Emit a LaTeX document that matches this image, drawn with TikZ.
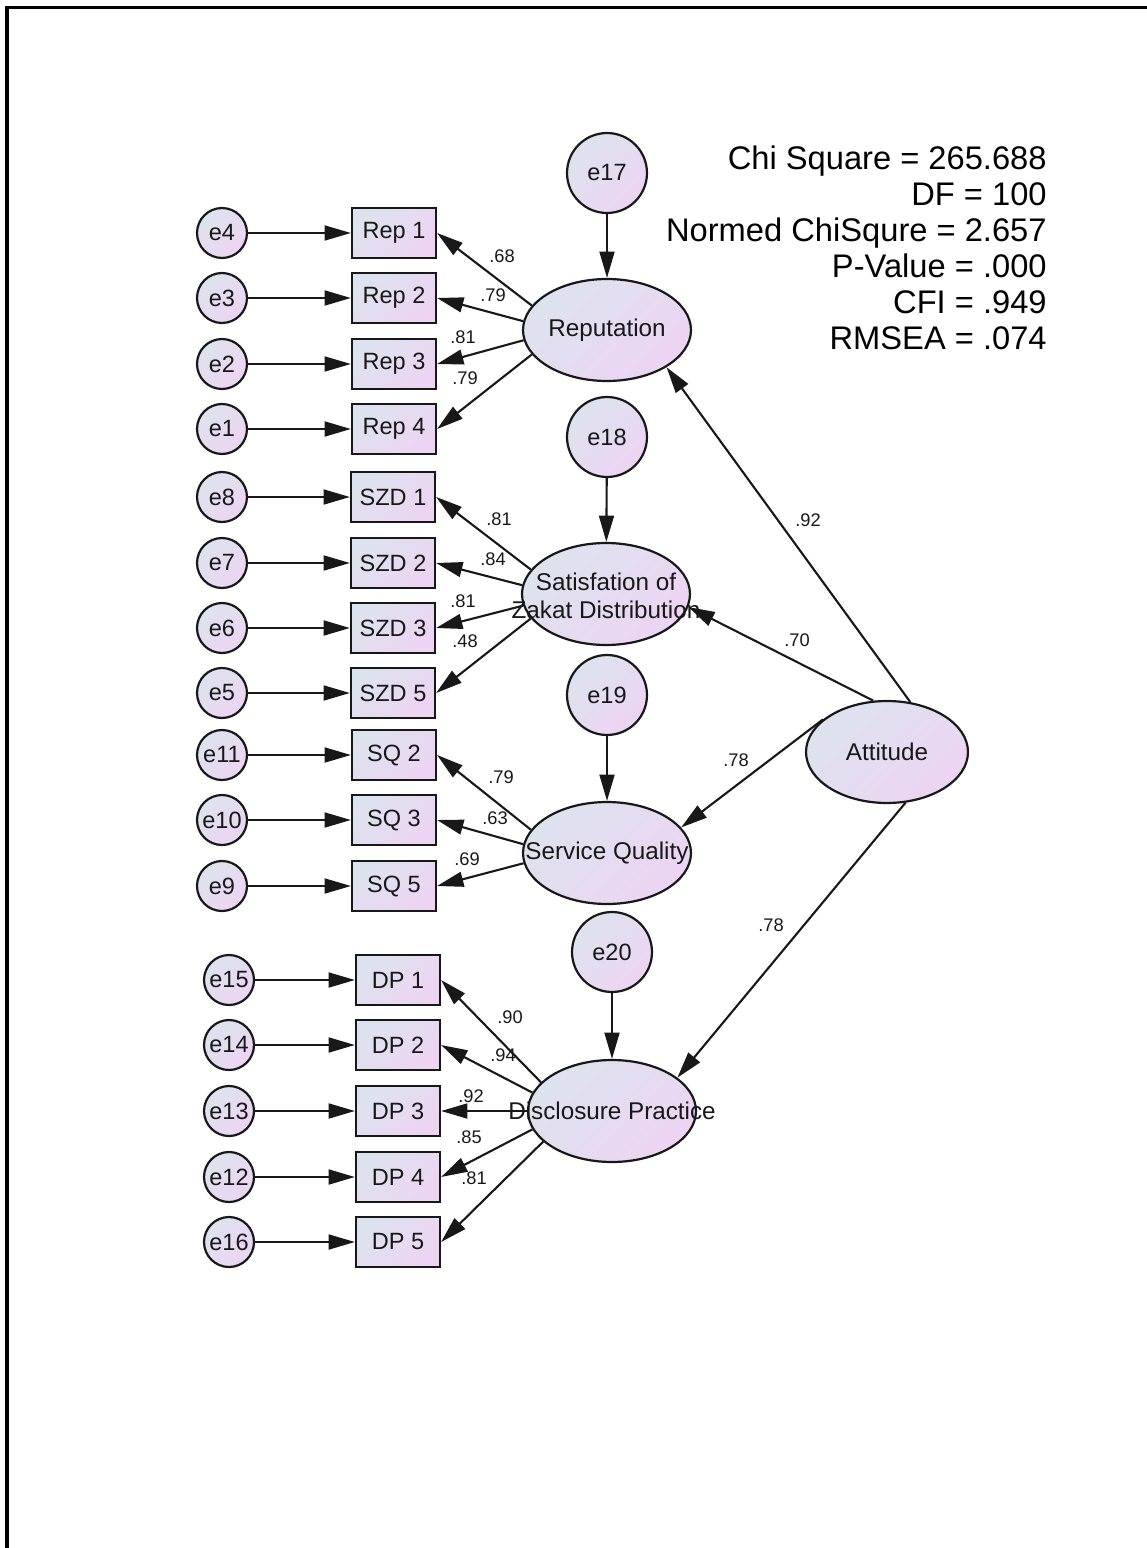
\documentclass[tikz,border=0pt]{standalone}
\usepackage{fontspec}
\setmainfont{Liberation Sans}
\usetikzlibrary{shapes.geometric,arrows.meta}
\definecolor{fillA}{RGB}{221,227,238}
\definecolor{fillB}{RGB}{237,212,243}
\definecolor{ink}{RGB}{24,24,24}
\begin{document}
\begin{tikzpicture}[x=0.02cm,y=-0.02cm,
  shadefill/.style={top color=fillA,bottom color=fillB,shading angle=45},
  errc/.style={circle,draw=ink,line width=1.25pt,shadefill,minimum size=10mm,inner sep=0pt,
    text=ink,font=\fontsize{13.4}{15}\selectfont},
  errbig/.style={errc,minimum size=16mm},
  obs/.style={rectangle,draw=ink,line width=1.25pt,shadefill,minimum width=16.8mm,
    minimum height=10mm,inner sep=0pt,text=ink,font=\fontsize{13.4}{15}\selectfont},
  latent/.style={ellipse,draw=ink,line width=1.25pt,shadefill,minimum width=33.6mm,
    minimum height=20.4mm,inner sep=0pt},
  lattext/.style={inner sep=0pt,align=center,text=ink,font=\fontsize{13.8}{16}\selectfont},
  arr/.style={draw=ink,line width=1.2pt,-{Triangle[length=15pt,width=8.5pt]}},
  coef/.style={inner sep=0pt,text=ink,font=\fontsize{10.4}{12}\selectfont},
  stats/.style={inner sep=0pt,align=right,text=black,font=\fontsize{18.6}{20.5}\selectfont}]

\useasboundingbox (0,0) rectangle (1146,1548);
% page frame (open to the right and bottom)
\draw[line width=1.8pt,black] (7,1560) -- (7,7.7) -- (1160,7.7);

% ---- fit indices
\node[stats,anchor=east] (fit) at (1047,248)
  {Chi Square = 265.688\\DF = 100\\Normed ChiSqure = 2.657\\P-Value = .000\\CFI = .949\\RMSEA = .074};

% ---- latent variables
\node[latent] (rep) at (607,330) {};
\node[lattext] (reptxt) at (rep) {Reputation};
\node[latent] (szd) at (606,594) {};
\node[lattext] (szdtxt) at (606,596) {Satisfation of\\Zakat Distribution};
\node[latent] (sq) at (607,853) {};
\node[lattext] (sqtxt) at (sq) {Service Quality};
\node[latent] (dp) at (612,1111) {};
\node[lattext] (dptxt) at (dp) {Disclosure Practice};
\node[latent,minimum width=32.4mm] (att) at (887,752) {};
\node[lattext] (atttxt) at (att) {Attitude};

% ---- disturbances
\node[errbig] (e17) at (607,173) {e17};
\node[errbig] (e18) at (607,437) {e18};
\node[errbig] (e19) at (607,695) {e19};
\node[errbig] (e20) at (612,952) {e20};

% ---- Reputation indicators
\node[obs] (rep1) at (394,233) {Rep 1};
\node[obs] (rep2) at (394,298) {Rep 2};
\node[obs] (rep3) at (394,364) {Rep 3};
\node[obs] (rep4) at (394,429) {Rep 4};
\node[errc] (e4) at (222,233) {e4};
\node[errc] (e3) at (222,298) {e3};
\node[errc] (e2) at (222,364) {e2};
\node[errc] (e1) at (222,429) {e1};

% ---- Satisfaction indicators
\node[obs] (szd1) at (393,497) {SZD 1};
\node[obs] (szd2) at (393,563) {SZD 2};
\node[obs] (szd3) at (393,628) {SZD 3};
\node[obs] (szd5) at (393,693) {SZD 5};
\node[errc] (e8) at (222,497) {e8};
\node[errc] (e7) at (222,563) {e7};
\node[errc] (e6) at (222,628) {e6};
\node[errc] (e5) at (222,693) {e5};

% ---- Service quality indicators
\node[obs] (sq2) at (394,755) {SQ 2};
\node[obs] (sq3) at (394,820) {SQ 3};
\node[obs] (sq5) at (394,886) {SQ 5};
\node[errc] (e11) at (222,755) {e11};
\node[errc] (e10) at (222,820) {e10};
\node[errc] (e9) at (222,886) {e9};

% ---- Disclosure practice indicators
\node[obs] (dp1) at (398,980) {DP 1};
\node[obs] (dp2) at (398,1045) {DP 2};
\node[obs] (dp3) at (398,1111) {DP 3};
\node[obs] (dp4) at (398,1177) {DP 4};
\node[obs] (dp5) at (398,1242) {DP 5};
\node[errc] (e15) at (229,980) {e15};
\node[errc] (e14) at (229,1045) {e14};
\node[errc] (e13) at (229,1111) {e13};
\node[errc] (e12) at (229,1177) {e12};
\node[errc] (e16) at (229,1242) {e16};

% ---- error terms to indicators
\foreach \e/\o in {e4/rep1,e3/rep2,e2/rep3,e1/rep4,e8/szd1,e7/szd2,e6/szd3,e5/szd5,
  e11/sq2,e10/sq3,e9/sq5,e15/dp1,e14/dp2,e13/dp3,e12/dp4,e16/dp5}
  \draw[arr] (\e) -- (\o);

% ---- disturbances to latents
\draw[arr] (e17) -- (rep);
\draw[arr] (e18) -- (szd);
\draw[arr] (e19) -- (sq);
\draw[arr] (e20) -- (dp);

% ---- loadings
\draw[arr] (rep.162.7) -- (rep1.east);
\draw[arr] (rep.174.6) -- (rep2.east);
\draw[arr] (rep.187.5) -- (rep3.east);
\draw[arr] (rep.198.7) -- (rep4.east);
\draw[arr] (szd.162.5) -- (szd1.east);
\draw[arr] (szd.174.6) -- (szd2.east);
\draw[arr] (szd.188.5) -- (szd3.east);
\draw[arr] (szd.198.2) -- (szd5.east);
\draw[arr] (sq.163) -- (sq2.east);
\draw[arr] (sq.174) -- (sq3.east);
\draw[arr] (sq.187) -- (sq5.east);
\draw[arr] (dp.158) -- (dp1.east);
\draw[arr] (dp.167.6) -- (dp2.east);
\draw[arr] (dp.180) -- (dp3.east);
\draw[arr] (dp.193) -- (dp4.east);
\draw[arr] (dp.204) -- (dp5.east);

% ---- structural paths
\draw[arr] (att.65.3) -- (rep.328.8);
\draw[arr] (att.105.3) -- (szd.351);
\draw[arr] (att.153.4) -- (sq.19.6);
\draw[arr] (att.290.8) -- (dp.27.6);

% ---- coefficients
\node[coef] (c1) at (502,256) {.68};
\node[coef] (c2) at (493,295) {.79};
\node[coef] (c3) at (463,337) {.81};
\node[coef] (c4) at (465,378) {.79};
\node[coef] (c5) at (499,519) {.81};
\node[coef] (c6) at (493,559) {.84};
\node[coef] (c7) at (463,601) {.81};
\node[coef] (c8) at (465,641) {.48};
\node[coef] (c9) at (501,777) {.79};
\node[coef] (c10) at (495,818) {.63};
\node[coef] (c11) at (467,859) {.69};
\node[coef] (c12) at (510,1017) {.90};
\node[coef] (c13) at (503,1055) {.94};
\node[coef] (c14) at (471,1096) {.92};
\node[coef] (c15) at (469,1137) {.85};
\node[coef] (c16) at (474,1178) {.81};
\node[coef] (c17) at (808,520) {.92};
\node[coef] (c18) at (797,640) {.70};
\node[coef] (c19) at (736,760) {.78};
\node[coef] (c20) at (771,925) {.78};
\end{tikzpicture}
\end{document}
